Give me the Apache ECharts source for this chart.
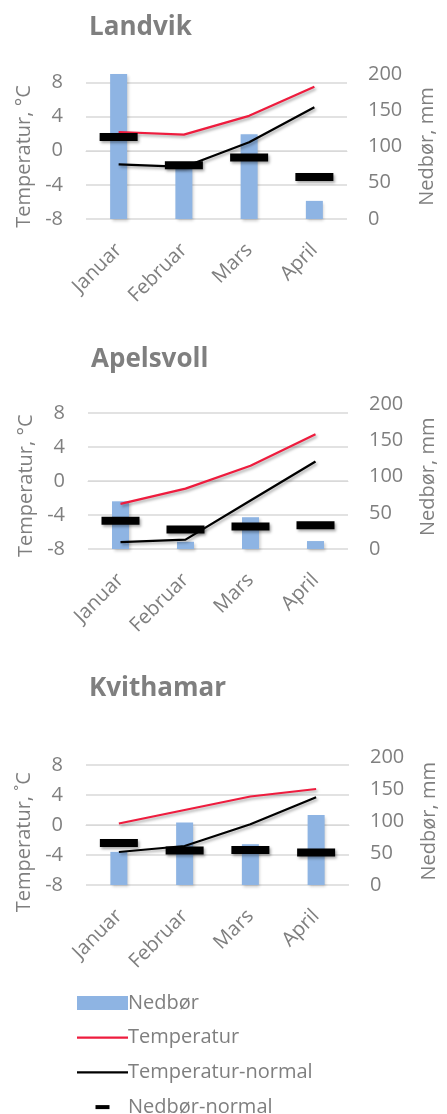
<!DOCTYPE html>
<html>
<head>
<meta charset="utf-8">
<title>Nedbør og temperatur</title>
<script src="https://cdn.jsdelivr.net/npm/echarts@6/dist/echarts.min.js"></script>
<style>
  html, body { margin: 0; padding: 0; background: #ffffff; }
  #chart { width: 447px; height: 1114px; }
</style>
</head>
<body>
<div id="chart"></div>
<script>
// Months on the category axis
const months = ['Januar', 'Februar', 'Mars', 'April'];

// Station names
const stations = ['Landvik', 'Apelsvoll', 'Kvithamar'];

// Axis ticks
const tempTicks = [-8, -4, 0, 4, 8];
const rainTicks = [0, 50, 100, 150, 200];

// Landvik
const landvikNedbor = [200, 71, 117, 25];
const landvikNedborNormal = [113, 74, 85, 58];
const landvikTemp = [2.2, 1.9, 4.1, 7.5];
const landvikTempNormal = [-1.6, -1.9, 1.0, 5.1];

// Apelsvoll
const apelsvollNedbor = [66, 10, 44, 11];
const apelsvollNedborNormal = [39, 27, 31, 33];
const apelsvollTemp = [-2.7, -0.9, 1.8, 5.5];
const apelsvollTempNormal = [-7.2, -6.9, -2.3, 2.3];

// Kvithamar
const kvithamarNedbor = [52, 98, 64, 110];
const kvithamarNedborNormal = [66, 54, 55, 51];
const kvithamarTemp = [0.2, 2.0, 3.8, 4.8];
const kvithamarTempNormal = [-3.6, -2.8, 0.1, 3.7];

const nedbor = [landvikNedbor, apelsvollNedbor, kvithamarNedbor];
const nedborNormal = [landvikNedborNormal, apelsvollNedborNormal, kvithamarNedborNormal];
const temp = [landvikTemp, apelsvollTemp, kvithamarTemp];
const tempNormal = [landvikTempNormal, apelsvollTempNormal, kvithamarTempNormal];
const tempAxisNames = ['Temperatur, °C', 'Temperatur, °C', 'Temperatur, \u02DAC'];

const FONT = '"Open Sans", "Noto Sans", sans-serif';
const GREY = '#7f7f7f';
const GRID_LINE = '#d9d9d9';
const BLUE = '#8eb4e3';
const RED = '#ee1c3e';

// Plot areas of the three panels
const grids = [
  { left: 86, right: 100, top: 74, height: 145 },
  { left: 88, right: 99, top: 404.5, height: 144.5 },
  { left: 86, right: 91, top: 757.5, height: 127.5 }
];
const titleTops = [10, 342, 671];
// extra right padding pushes the rotated axis title further down its axis
const tempNamePad = [20, 18, 42];

const shadow = {
  shadowColor: 'rgba(0,0,0,0.35)',
  shadowBlur: 3,
  shadowOffsetX: 1.5,
  shadowOffsetY: 2
};

// Legend glyphs: invisible corner points keep the 51x14 frame, the filled part is the visible mark
const lineIcon = 'path://M0,0L0,0M51,14L51,14M0,5.9H51V8.1H0Z';
const dashIcon = 'path://M0,0L0,0M51,14L51,14M18.5,5H32.5V9H18.5Z';

const option = {
  animation: false,
  backgroundColor: '#ffffff',
  textStyle: { fontFamily: FONT },
  title: stations.map((s, i) => ({
    text: s,
    left: grids[i].left - 2,
    top: titleTops[i],
    textStyle: { fontFamily: FONT, fontSize: 26, fontWeight: 'bold', color: GREY }
  })),
  legend: {
    orient: 'vertical',
    left: 72,
    top: 988,
    height: 160,
    itemWidth: 51,
    itemHeight: 14,
    itemGap: 14.7,
    textStyle: { fontFamily: FONT, fontSize: 20, lineHeight: 20, color: GREY, padding: [0, 0, 0, -5] },
    data: [
      { name: 'Nedbør', icon: 'rect' },
      { name: 'Temperatur', icon: lineIcon },
      { name: 'Temperatur-normal', icon: lineIcon },
      { name: 'Nedbør-normal', icon: dashIcon }
    ]
  },
  grid: grids,
  xAxis: grids.map((g, i) => ({
    type: 'category',
    gridIndex: i,
    data: months,
    axisLine: { show: true, lineStyle: { color: GRID_LINE } },
    axisTick: { show: false },
    axisLabel: { rotate: 45, margin: 28, fontFamily: FONT, fontSize: 20, color: GREY }
  })),
  yAxis: [],
  series: []
};

grids.forEach((g, i) => {
  option.yAxis.push({
    type: 'value',
    gridIndex: i,
    position: 'left',
    min: tempTicks[0],
    max: 9,
    interval: tempTicks[1] - tempTicks[0],
    name: tempAxisNames[i],
    nameLocation: 'middle',
    nameRotate: 90,
    nameGap: 52,
    nameTextStyle: { fontFamily: FONT, fontSize: 20, color: GREY, padding: [0, tempNamePad[i], 0, 0] },
    axisLine: { show: false },
    axisTick: { show: false },
    axisLabel: { showMaxLabel: false, margin: 23, fontFamily: FONT, fontSize: 20, color: GREY },
    splitLine: { show: true, showMaxLine: false, lineStyle: { color: GRID_LINE, width: 1.5 } }
  });
  option.yAxis.push({
    type: 'value',
    gridIndex: i,
    position: 'right',
    min: rainTicks[0],
    max: rainTicks[rainTicks.length - 1],
    interval: rainTicks[1] - rainTicks[0],
    name: 'Nedbør, mm',
    nameLocation: 'middle',
    nameRotate: 90,
    nameGap: 70,
    nameTextStyle: { fontFamily: FONT, fontSize: 20, color: GREY },
    axisLine: { show: false },
    axisTick: { show: false },
    axisLabel: { margin: 21, fontFamily: FONT, fontSize: 20, color: GREY },
    splitLine: { show: false }
  });

  option.series.push(
    {
      name: 'Nedbør',
      type: 'bar',
      xAxisIndex: i,
      yAxisIndex: i * 2 + 1,
      data: nedbor[i],
      barWidth: 17,
      itemStyle: Object.assign({ color: BLUE }, shadow, { shadowColor: 'rgba(0,0,0,0.2)' })
    },
    {
      name: 'Temperatur',
      type: 'line',
      xAxisIndex: i,
      yAxisIndex: i * 2,
      data: temp[i],
      symbol: 'none',
      color: RED,
      itemStyle: { color: RED },
      lineStyle: Object.assign({ color: RED, width: 2.25 }, shadow)
    },
    {
      name: 'Temperatur-normal',
      type: 'line',
      xAxisIndex: i,
      yAxisIndex: i * 2,
      data: tempNormal[i],
      symbol: 'none',
      color: '#000000',
      itemStyle: { color: '#000000' },
      lineStyle: Object.assign({ color: '#000000', width: 2.25 }, shadow)
    },
    {
      name: 'Nedbør-normal',
      type: 'scatter',
      xAxisIndex: i,
      yAxisIndex: i * 2 + 1,
      data: nedborNormal[i],
      symbol: 'rect',
      symbolSize: [38, 8],
      z: 5,
      itemStyle: Object.assign({ color: '#000000', opacity: 1 }, shadow)
    }
  );
});

const chart = echarts.init(document.getElementById('chart'), null, { renderer: 'canvas' });
chart.setOption(option);
</script>
</body>
</html>
